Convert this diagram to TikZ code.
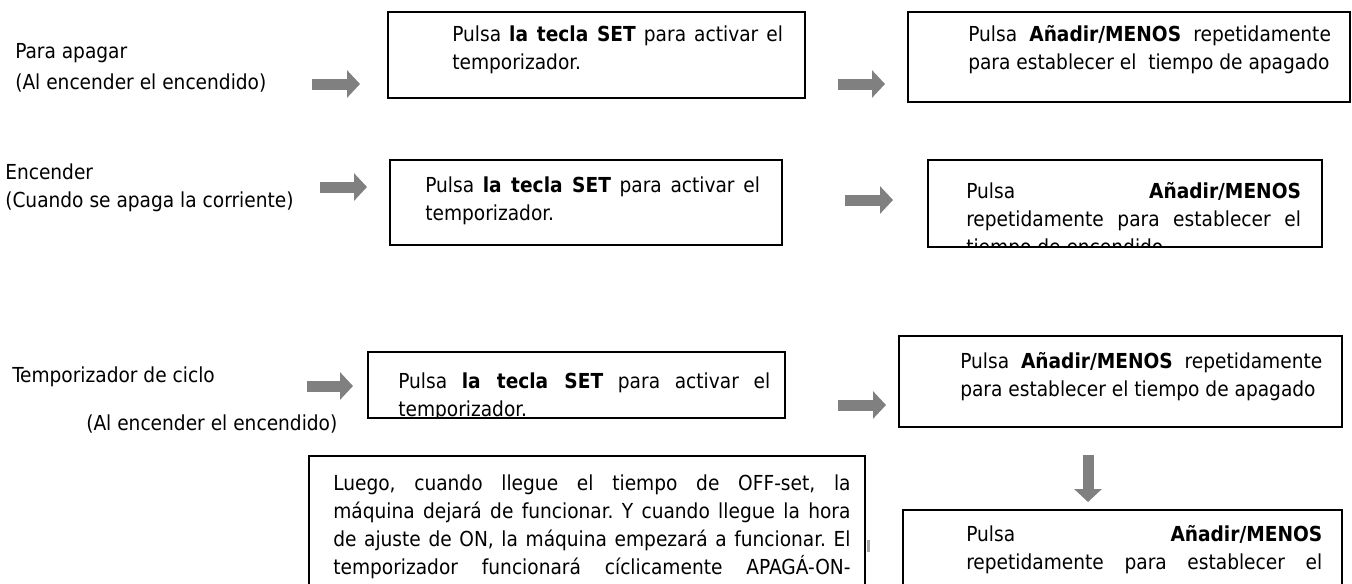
\documentclass[tikz,border=0pt]{standalone}
\usepackage{fontspec}
\IfFontExistsTF{DejaVu Sans Condensed}
  {\setmainfont{DejaVu Sans Condensed}\newcommand{\txtsize}{15.5}}
  {\setmainfont{DejaVu Sans}\newcommand{\txtsize}{14}}
\usepackage{tikz}
\usetikzlibrary{arrows.meta,fit}
\definecolor{flowGray}{RGB}{128,128,128}
\frenchspacing

\begin{document}
\begin{tikzpicture}[x=0.75pt,y=-0.75pt,
    lbl/.style={anchor=base west,inner sep=0pt,font=\fontsize{\txtsize}{21}\selectfont},
    panel/.style={draw=black,line width=1.2pt,inner sep=0pt},
    txt/.style={anchor=north west,inner sep=0pt,align=justify,font=\fontsize{\txtsize}{21}\selectfont},
    flow/.style={draw=flowGray,line width=8.25pt,-{Triangle[length=9.75pt,width=20.25pt]}}]
        \useasboundingbox (0,0) rectangle (1352,583);
        \clip (0,0) rectangle (1352,583);
        % Para apagar
        \node[lbl] (offHead) at (15,58) {Para apagar};
        \node[lbl] (offSub) at (15,89) {(Al encender el encendido)};
        \coordinate (a1s) at (312,84); \coordinate (a1e) at (360,84);
        \draw[flow] (a1s) -- (a1e);
        \node[panel,fit={(388,12) (805,98)}] (offKey) {};
        \begin{scope}
          \clip (offKey.south west) rectangle (offKey.north east);
          \node[txt,text width=248pt] (offKeyTxt) at (452,21.4) {\strut Pulsa \textbf{la tecla SET} para activar el\linebreak temporizador.};
        \end{scope}
        \coordinate (a2s) at (838,84); \coordinate (a2e) at (885,84);
        \draw[flow] (a2s) -- (a2e);
        \node[panel,fit={(908,12) (1350,102)}] (offTime) {};
        \begin{scope}
          \clip (offTime.south west) rectangle (offTime.north east);
          \node[txt,text width=272pt] (offTimeTxt) at (968,21.4) {\strut Pulsa \textbf{Añadir/MENOS} repetidamente\linebreak para establecer el\ \ tiempo de apagado};
        \end{scope}
        % Encender
        \node[lbl] (onHead) at (5,179) {Encender};
        \node[lbl] (onSub) at (5,207) {(Cuando se apaga la corriente)};
        \coordinate (a3s) at (320,187); \coordinate (a3e) at (367,187);
        \draw[flow] (a3s) -- (a3e);
        \node[panel,fit={(390,160) (782,245)}] (onKey) {};
        \begin{scope}
          \clip (onKey.south west) rectangle (onKey.north east);
          \node[txt,text width=251pt] (onKeyTxt) at (425,172.4) {\strut Pulsa \textbf{la tecla SET} para activar el\linebreak temporizador.};
        \end{scope}
        \coordinate (a4s) at (845,200); \coordinate (a4e) at (893,200);
        \draw[flow] (a4s) -- (a4e);
        \node[panel,fit={(928,160) (1322,247)}] (onTime) {};
        \begin{scope}
          \clip (onTime.south west) rectangle (onTime.north east);
          \node[txt,text width=251pt] (onTimeTxt) at (966,179) {\strut Pulsa \textbf{Añadir/MENOS}\linebreak repetidamente para establecer el\linebreak tiempo de encendido};
        \end{scope}
        % Temporizador de ciclo
        \node[lbl] (cycHead) at (12,382) {Temporizador de ciclo};
        \node[lbl] (cycSub) at (86,430) {(Al encender el encendido)};
        \coordinate (a5s) at (307,386); \coordinate (a5e) at (353,386);
        \draw[flow] (a5s) -- (a5e);
        \node[panel,fit={(368,352) (785,418)}] (cycKey) {};
        \begin{scope}
          \clip (cycKey.south west) rectangle (cycKey.north east);
          \node[txt,text width=279pt] (cycKeyTxt) at (398,368.4) {\strut Pulsa \textbf{la tecla SET} para activar el\linebreak temporizador.};
        \end{scope}
        \coordinate (a6s) at (838,405); \coordinate (a6e) at (886,405);
        \draw[flow] (a6s) -- (a6e);
        \node[panel,fit={(899,336) (1342,427)}] (cycOff) {};
        \begin{scope}
          \clip (cycOff.south west) rectangle (cycOff.north east);
          \node[txt,text width=271.5pt] (cycOffTxt) at (960,348.4) {\strut Pulsa \textbf{Añadir/MENOS} repetidamente\linebreak para establecer el tiempo de apagado};
        \end{scope}
        \coordinate (a7s) at (1088,455); \coordinate (a7e) at (1088,502);
        \draw[flow] (a7s) -- (a7e);
        \node[panel,fit={(903,510) (1342,620)}] (cycOn) {};
        \begin{scope}
          \clip (cycOn.south west) rectangle (cycOn.north east);
          \node[txt,text width=267pt] (cycOnTxt) at (966,521.4) {\strut Pulsa \textbf{Añadir/MENOS}\linebreak repetidamente para establecer el\linebreak\mbox{}};
        \end{scope}
        % Note
        \node[panel,fit={(309,456) (865,620)}] (cycNote) {};
        \begin{scope}
          \clip (cycNote.south west) rectangle (cycNote.north east);
          \node[txt,text width=388pt] (cycNoteTxt) at (333,470.4) {\strut Luego, cuando llegue el tiempo de OFF-set, la\linebreak máquina dejará de funcionar. Y cuando llegue la hora\linebreak de ajuste de ON, la máquina empezará a funcionar. El\linebreak temporizador funcionará cíclicamente APAGÁ-ON-\linebreak\mbox{}};
        \end{scope}
        \fill[flowGray!70] (867,540) rectangle (870,552);
      \end{tikzpicture}
\end{document}
